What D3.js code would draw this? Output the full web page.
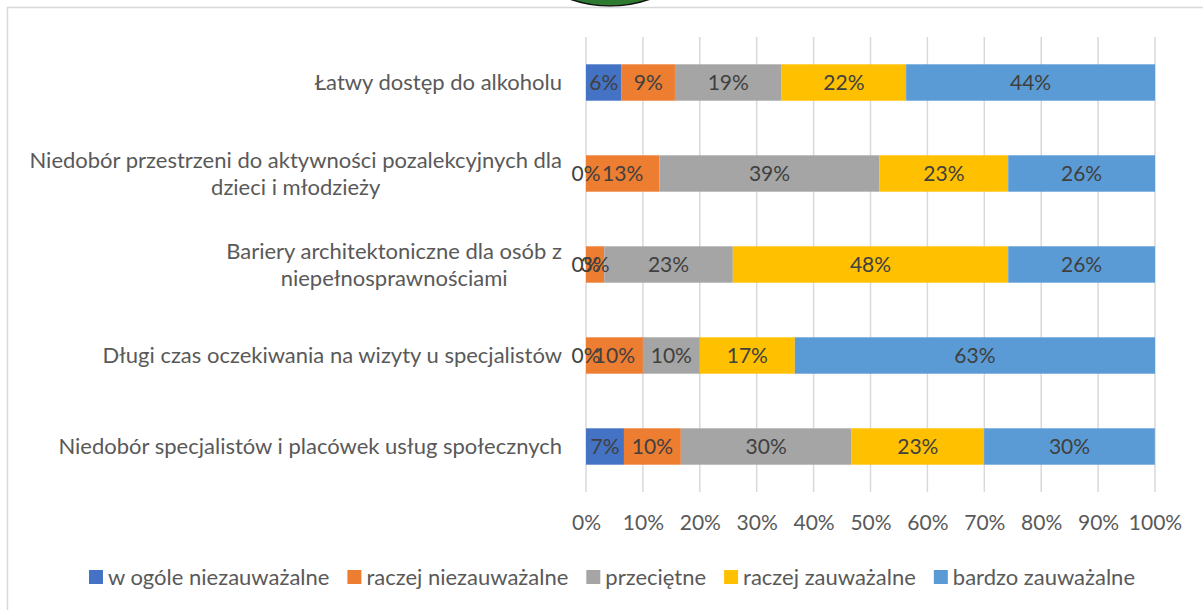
<!DOCTYPE html>
<html>
<head>
<meta charset="utf-8">
<script src="https://cdn.jsdelivr.net/npm/d3@7"></script>
<style>
  body { margin: 0; background: #fff; }
  svg { display: block; font-family: Lato, "Open Sans", sans-serif; }
</style>
</head>
<body>
<svg id="chart" width="1203" height="610"></svg>
<script>
// categories, top to bottom
const categories = [
  'Łatwy dostęp do alkoholu',
  'Niedobór przestrzeni do aktywności pozalekcyjnych dla|dzieci i młodzieży',
  'Bariery architektoniczne dla osób z|niepełnosprawnościami',
  'Długi czas oczekiwania na wizyty u specjalistów',
  'Niedobór specjalistów i placówek usług społecznych'
];

const seriesNames = ['w ogóle niezauważalne', 'raczej niezauważalne', 'przeciętne', 'raczej zauważalne', 'bardzo zauważalne'];
const colors = ['#4472C4', '#ED7D31', '#A5A5A5', '#FFC000', '#5B9BD5'];

// shares per category, same order as categories
const wOgole   = [6.25, 0, 0, 0, 6.67];
const raczejNie = [9.38, 12.9, 3.2, 10.0, 10.0];
const przecietne = [18.75, 38.7, 22.6, 10.0, 30.0];
const raczejTak = [21.88, 22.6, 48.4, 16.7, 23.3];
const bardzo   = [43.75, 25.8, 25.8, 63.3, 30.0];

const ticks = [0, 10, 20, 30, 40, 50, 60, 70, 80, 90, 100];

const series = [wOgole, raczejNie, przecietne, raczejTak, bardzo];
const table = categories.map((c, i) => {
  const row = { cat: c };
  seriesNames.forEach((s, j) => row[s] = series[j][i]);
  return row;
});

const svg = d3.select('#chart');
const labelSize = 22;
const smallSize = 21;

// frame + decorative circle at top
svg.append('circle')
  .attr('cx', 610).attr('cy', -114).attr('r', 120)
  .attr('fill', '#2E7A31').attr('stroke', '#111').attr('stroke-width', 1.5);
svg.append('rect')
  .attr('x', 7.5).attr('y', 7.5).attr('width', 1220).attr('height', 620)
  .attr('fill', 'none').attr('stroke', '#D9D9D9').attr('stroke-width', 1.5);

const plot = { left: 586, right: 1155, top: 37, bottom: 492 };

const x = d3.scaleLinear().domain([0, 100]).range([plot.left, plot.right]);
const y = d3.scaleBand().domain(categories).range([plot.top, plot.bottom]).paddingInner(0.6).paddingOuter(0.3);

// gridlines
svg.append('g')
  .selectAll('line')
  .data(ticks)
  .join('line')
  .attr('x1', d => x(d)).attr('x2', d => x(d))
  .attr('y1', plot.top).attr('y2', plot.bottom)
  .attr('stroke', '#D9D9D9').attr('stroke-width', 1.5);

// x axis labels
const xAxis = svg.append('g')
  .attr('transform', `translate(0,${plot.bottom})`)
  .call(d3.axisBottom(x).tickValues(ticks).tickFormat(d => d + '%').tickSize(0).tickPadding(23));
xAxis.select('.domain').remove();
xAxis.selectAll('text')
  .attr('fill', '#595959').style('font-size', smallSize + 'px').style('font-family', 'Lato, sans-serif');

// stacked bars
const stack = d3.stack().keys(seriesNames)(table);

svg.append('g')
  .selectAll('g')
  .data(stack)
  .join('g')
  .attr('fill', (d, i) => colors[i])
  .selectAll('rect')
  .data(d => d)
  .join('rect')
  .attr('x', d => x(d[0]))
  .attr('y', d => y(d.data.cat))
  .attr('width', d => x(d[1]) - x(d[0]))
  .attr('height', y.bandwidth());

// data labels (drawn after all bars so 0% stays visible)
svg.append('g')
  .selectAll('text')
  .data(stack.flatMap(s => s.map(v => ({ v, key: s.key }))))
  .join('text')
  .attr('x', d => (x(d.v[0]) + x(d.v[1])) / 2)
  .attr('y', d => y(d.v.data.cat) + y.bandwidth() / 2)
  .attr('dy', '0.36em')
  .attr('text-anchor', 'middle')
  .attr('fill', '#404040')
  .style('font-size', smallSize + 'px')
  .text(d => Math.round(d.v.data[d.key]) + '%');

// category labels, multiline blocks centred within themselves, right aligned
const catG = svg.append('g');
categories.forEach(c => {
  const lines = c.split('|');
  const lh = 27;
  const cy = y(c) + y.bandwidth() / 2;
  const t = catG.append('text')
    .attr('fill', '#595959')
    .style('font-size', labelSize + 'px')
    .attr('text-anchor', 'middle');
  lines.forEach((ln, i) => {
    t.append('tspan')
      .attr('x', 0)
      .attr('y', cy + (i - (lines.length - 1) / 2) * lh)
      .attr('dy', '0.36em')
      .text(ln);
  });
  const w = t.node().getBBox().width;
  t.selectAll('tspan').attr('x', 562 - w / 2);
});

// legend, laid out from measured text widths and centred
const legend = svg.append('g').attr('transform', 'translate(0,570)');
const items = legend.selectAll('g')
  .data(seriesNames)
  .join('g');
items.append('rect')
  .attr('width', 14).attr('height', 14)
  .attr('fill', (d, i) => colors[i]);
items.append('text')
  .attr('x', 19).attr('y', 7).attr('dy', '0.36em')
  .attr('fill', '#595959')
  .style('font-size', labelSize + 'px')
  .text(d => d);
let offs = [], cur = 0;
items.each(function() {
  offs.push(cur);
  cur += 19 + d3.select(this).select('text').node().getComputedTextLength() + 18;
});
const total = cur - 18;
const startX = 612 - total / 2;
items.attr('transform', (d, i) => `translate(${startX + offs[i]},0)`);
</script>
</body>
</html>
